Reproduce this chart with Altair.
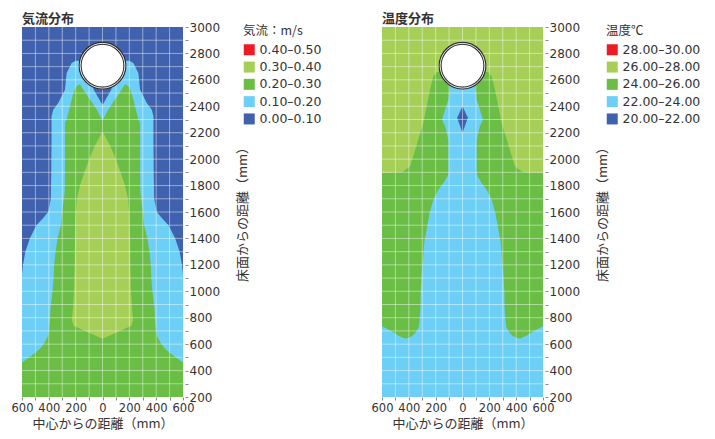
import altair as alt
import pandas as pd

# ---------------- data ----------------
X_DOMAIN = [-600, 600]
Y_DOMAIN = [200, 3000]
X_TICKS = list(range(-600, 601, 100))
Y_TICKS = list(range(200, 3001, 100))
GRID_X = list(range(-500, 501, 100))
GRID_Y = list(range(300, 2901, 100))

AIR_LEVELS = ["0.40–0.50", "0.30–0.40", "0.20–0.30", "0.10–0.20", "0.00–0.10"]
TEMP_LEVELS = ["28.00–30.00", "26.00–28.00", "24.00–26.00", "22.00–24.00", "20.00–22.00"]
LEVEL_COLORS = ["#ed1c24", "#a6cf57", "#6abd45", "#6dcff6", "#4062ae"]

# duct (circle) position, mm
DUCT_X = [0]
DUCT_Y = [2707]

# ---- airflow: half widths (mm) of each zone at given heights (mm) ----
air_base_y = [200, 3000]
air_base_w = [600, 600]

air_01_y = [200, 1130, 1200, 1300, 1400, 1500, 1555, 1600, 1700, 1900, 2147, 2324, 2374, 2425, 2526, 2652, 2728, 2745]
air_01_w = [600, 600, 592, 575, 542, 492, 442, 405, 385, 382, 380, 380, 367, 330, 280, 267, 230, 200]

air_notch0_y = [2410, 2520, 2600]
air_notch0_w = [0, 62, 95]

air_02_y = [200, 462, 512, 563, 614, 664, 765, 866, 1000, 1100, 1200, 1300, 1400, 1500, 1600, 1750, 1895, 2147, 2273, 2298, 2400, 2500, 2550, 2565]
air_02_w = [600, 600, 530, 467, 430, 405, 392, 388, 372, 364, 360, 350, 335, 310, 300, 282, 280, 280, 280, 268, 242, 217, 195, 175]

air_notch1_y = [2290, 2374, 2450, 2526, 2565, 2580]
air_notch1_w = [0, 42, 92, 142, 168, 200]

air_03_y = [640, 690, 740, 780, 850, 1000, 1200, 1400, 1550, 1700, 1800, 1900, 2000, 2100, 2210]
air_03_w = [0, 110, 215, 228, 222, 212, 208, 205, 202, 190, 168, 135, 100, 58, 0]

# ---- temperature ----
temp_base_y = [200, 3000]
temp_base_w = [600, 600]

temp_24_y = [200, 1893, 1900, 1945, 2021, 2147, 2273, 2400, 2526, 2627, 2660]
temp_24_w = [600, 600, 450, 392, 367, 330, 292, 267, 242, 217, 190]

temp_22_y = [735, 866, 1000, 1118, 1370, 1592, 1693, 1769, 1819, 1870, 1895, 2147, 2248, 2298, 2374, 2450, 2500, 2560]
temp_22_w = [324, 314, 312, 305, 285, 245, 217, 180, 142, 112, 105, 105, 130, 152, 130, 105, 100, 90]

# lower edge of the side 24-26 zones (light blue below it), as height per x
temp_22_low_x = [-600, -560, -520, -480, -430, -400, -375, -350, -332, -322, -300, 0, 300, 322, 332, 350, 375, 400, 430, 480, 520, 560, 600]
temp_22_low_y = [735, 715, 692, 665, 643, 648, 662, 688, 718, 745, 800, 800, 800, 745, 718, 688, 662, 648, 643, 665, 692, 715, 735]

temp_20_y = [2200, 2314, 2400]
temp_20_w = [0, 40, 0]

# ---------------- helpers ----------------
FONT_JP = "Noto Sans CJK JP"
FONT_NUM = "DejaVu Sans"
TEXT = "#333333"

xscale = alt.Scale(domain=X_DOMAIN, nice=False, zero=False)
yscale = alt.Scale(domain=Y_DOMAIN, nice=False, zero=False)

x_axis = alt.Axis(
    values=X_TICKS,
    labelExpr="datum.value % 200 == 0 ? abs(datum.value) : ''",
    labelFlush=False, labelOverlap=False, tickSize=3, labelPadding=2,
    labelFontSize=11.5,
    title="中心からの距離（mm）", titlePadding=4,
)
y_axis = alt.Axis(
    orient="right", values=Y_TICKS,
    labelExpr="datum.value % 200 == 0 ? datum.value : ''",
    labelOverlap=False, labelFlush=False, tickSize=3, offset=2, labelPadding=1,
    title="床面からの距離（mm）", titleAngle=270, titleBaseline="middle",
    titleAlign="center", titleX=57, titleY=184,
)


def X(field="xa"):
    return alt.X(f"{field}:Q", scale=xscale, axis=x_axis)


def Y(field="ya"):
    return alt.Y(f"{field}:Q", scale=yscale, axis=y_axis)


def make_color(levels, title, lx):
    return alt.Color(
        "level:N",
        scale=alt.Scale(domain=levels, range=LEVEL_COLORS),
        legend=alt.Legend(
            title=title, orient="none", legendX=lx, legendY=-2,
            symbolType="square", symbolSize=121, symbolStrokeWidth=0,
            symbolOpacity=1, padding=0, titlePadding=6, rowPadding=4.3,
            labelOffset=4, labelFont=FONT_NUM, labelFontSize=12.5, labelColor=TEXT,
            titleFont=FONT_JP, titleFontSize=12.5, titleFontWeight="normal",
            titleColor=TEXT, labelLimit=200,
        ),
    )


def band(ys, ws, level, color):
    df = pd.DataFrame({"ya": ys, "w": ws, "level": level})
    return (
        alt.Chart(df)
        .transform_calculate(xa="-datum.w", xb="datum.w")
        .mark_area(orient="horizontal", interpolate="linear", opacity=1)
        .encode(y=Y(), x=X(), x2="xb:Q", color=color)
    )


def low_band(xs, ys, level, color):
    df = pd.DataFrame({"xa": xs, "ya": ys, "level": level})
    return (
        alt.Chart(df)
        .transform_calculate(yb="200")
        .mark_area(orient="vertical", interpolate="linear", opacity=1)
        .encode(x=X(), y=Y(), y2="yb:Q", color=color)
    )


def grid_layers():
    vx = alt.Chart(pd.DataFrame({"xa": GRID_X})).mark_rule(
        color="white", strokeWidth=1, opacity=0.45).encode(x=X())
    hy = alt.Chart(pd.DataFrame({"ya": GRID_Y})).mark_rule(
        color="white", strokeWidth=1, opacity=0.45).encode(y=Y())
    return [vx, hy]


def duct_layers():
    df = pd.DataFrame({"xa": DUCT_X, "ya": DUCT_Y})
    outer = alt.Chart(df).mark_point(
        shape="circle", filled=True, fill="white", stroke="#2b2b2b",
        strokeWidth=3, size=2000, opacity=1, fillOpacity=1, strokeOpacity=1,
    ).encode(x=X(), y=Y())
    inner = alt.Chart(df).mark_point(
        shape="circle", filled=False, stroke="white", strokeWidth=0.9,
        size=2000, opacity=1,
    ).encode(x=X(), y=Y())
    return [outer, inner]


def panel_title(text):
    return alt.TitleParams(
        text, anchor="start", frame="group", font=FONT_JP, fontSize=13,
        fontWeight="bold", color=TEXT, offset=-5,
    )


c_air = make_color(AIR_LEVELS, "気流：m/s", 221)
air = alt.layer(
    band(air_base_y, air_base_w, AIR_LEVELS[4], c_air),
    band(air_01_y, air_01_w, AIR_LEVELS[3], c_air),
    band(air_02_y, air_02_w, AIR_LEVELS[2], c_air),
    band(air_notch1_y, air_notch1_w, AIR_LEVELS[3], c_air),
    band(air_notch0_y, air_notch0_w, AIR_LEVELS[4], c_air),
    band(air_03_y, air_03_w, AIR_LEVELS[1], c_air),
    *grid_layers(),
    *duct_layers(),
).properties(width=161, height=370, title=panel_title("気流分布"))

c_temp = make_color(TEMP_LEVELS, "温度℃", 224)
temp = alt.layer(
    band(temp_base_y, temp_base_w, TEMP_LEVELS[1], c_temp),
    band(temp_24_y, temp_24_w, TEMP_LEVELS[2], c_temp),
    band(temp_22_y, temp_22_w, TEMP_LEVELS[3], c_temp),
    low_band(temp_22_low_x, temp_22_low_y, TEMP_LEVELS[3], c_temp),
    band(temp_20_y, temp_20_w, TEMP_LEVELS[4], c_temp),
    *grid_layers(),
    *duct_layers(),
).properties(width=161, height=370, title=panel_title("温度分布"))

chart = (
    alt.hconcat(air, temp, spacing=199, bounds="flush")
    .resolve_scale(color="independent")
    .properties(padding={"left": 3, "top": 5, "right": 5, "bottom": 5})
    .configure_view(stroke=None)
    .configure_axis(
        labelFont=FONT_NUM, labelFontSize=12, labelColor=TEXT,
        titleFont=FONT_JP, titleFontSize=13, titleFontWeight="normal",
        titleColor=TEXT, tickColor="#8a8a8a", tickWidth=1, domain=False, grid=False,
    )
)

chart.save("out.html", embed_options={"renderer": "svg", "actions": False})
